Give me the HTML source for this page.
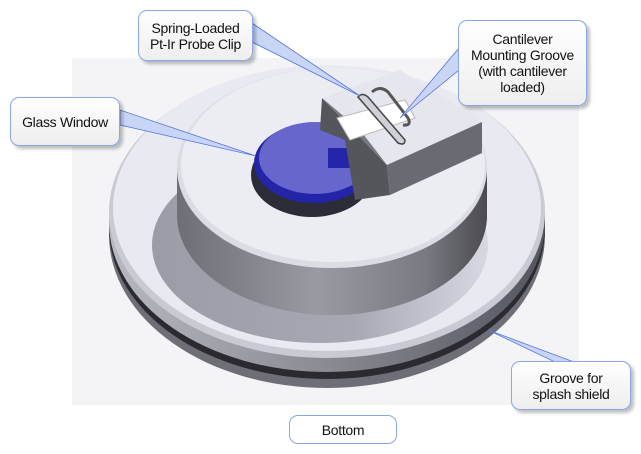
<!DOCTYPE html>
<html><head><meta charset="utf-8"><style>
html,body{margin:0;padding:0;background:#fff;}
body{width:641px;height:454px;overflow:hidden;position:relative;font-family:"Liberation Sans",sans-serif;}
.lb{position:absolute;box-sizing:border-box;border:1.5px solid #8aa6e6;border-radius:9px;background:linear-gradient(#ffffff,#eeeeee);box-shadow:3px 3px 3px rgba(0,0,0,0.25);font-size:14px;line-height:16px;color:#111;text-align:center;display:flex;align-items:center;justify-content:center;letter-spacing:-0.3px;}
</style></head><body>
<svg width="641" height="454" style="position:absolute;left:0;top:0">
<defs>
<linearGradient id="side" x1="0" x2="1"><stop offset="0" stop-color="#b8b8c0"/><stop offset="0.5" stop-color="#8a8a92"/><stop offset="1" stop-color="#555560"/></linearGradient>
<linearGradient id="cyl" x1="0" x2="1"><stop offset="0" stop-color="#6e6e76"/><stop offset="0.45" stop-color="#9a9aa2"/><stop offset="0.8" stop-color="#7a7a82"/><stop offset="1" stop-color="#4a4a50"/></linearGradient>
<linearGradient id="shad" x1="0" x2="1"><stop offset="0" stop-color="#9c9ca6"/><stop offset="0.6" stop-color="#a8a8b2"/><stop offset="1" stop-color="#d8d8e2"/></linearGradient>
</defs>
<rect x="72" y="58" width="507" height="347" fill="#f4f4f6"/>
<polygon points="395,70 415,58 440,60 420,75" fill="#f4f4f6"/>
<ellipse cx="327" cy="235" rx="218" ry="153" fill="#6e6e76"/>
<ellipse cx="327" cy="228" rx="218" ry="151" fill="#2a2a30"/>
<ellipse cx="327" cy="222" rx="218" ry="150" fill="url(#side)"/>
<ellipse cx="327" cy="212" rx="218" ry="146" fill="#cacad4"/>
<ellipse cx="327" cy="208" rx="214" ry="143" fill="#e9e9f1"/>
<ellipse cx="320" cy="245" rx="168" ry="98" fill="url(#shad)"/>
<path d="M177,168 L177,215 A155,100 0 0 0 487,215 L487,168 Z" fill="url(#cyl)"/>
<ellipse cx="332" cy="215" rx="155" ry="100" fill="url(#cyl)"/>
<ellipse cx="332" cy="168" rx="155" ry="100" fill="#dcdce4"/>
<ellipse cx="333" cy="165" rx="152" ry="97" fill="#ececf3"/>
<ellipse cx="312" cy="175" rx="61" ry="42" fill="#2c2c38"/>
<ellipse cx="314" cy="163" rx="60" ry="40" fill="#2424a8"/>
<ellipse cx="315" cy="158" rx="56" ry="36" fill="#6666cc"/>
<rect x="328" y="148" width="30" height="20" fill="#0a0a9a" opacity="0.7"/>
<polygon points="322,98 387,165 390,195 355,200 345,140 320,130" fill="#55555c"/>
<polygon points="322,98 400,70 482,122 387,165" fill="#e6e6ee"/>
<polygon points="387,165 482,122 482,153 390,195" fill="#6a6a72"/>
<polygon points="322,98 387,165 360,130" fill="#777780"/>
<polygon points="337,118 405,100 415,118 350,140" fill="#ffffff" stroke="#bbb"/>
<path d="M358,97 Q362,92 368,97 L405,140 Q405,146 398,143 Z" fill="#d0d0d8" stroke="#444" stroke-width="1.5"/>
<path d="M372,92 Q380,85 388,92 L408,118 Q412,126 403,125" fill="none" stroke="#555" stroke-width="3"/>
<polygon points="252,23 252,42 360,96" fill="#c9d5f5" stroke="#5577dd" stroke-width="0.8"/>
<polygon points="459,48 459,70 400,118" fill="#c9d5f5" stroke="#5577dd" stroke-width="0.8"/>
<polygon points="120,110 120,125 256,156" fill="#c9d5f5" stroke="#5577dd" stroke-width="0.8"/>
<polygon points="488,330 555,362 574,362" fill="#c9d5f5" stroke="#5577dd" stroke-width="0.8"/>
</svg>
<div class="lb" style="left:138px;top:10px;width:115px;height:51px;">Spring-Loaded<br>Pt-Ir Probe Clip</div>
<div class="lb" style="left:458px;top:20px;width:129px;height:86px;">Cantilever<br>Mounting Groove<br>(with cantilever<br>loaded)</div>
<div class="lb" style="left:10px;top:97px;width:110px;height:49px;">Glass Window</div>
<div class="lb" style="left:511px;top:361px;width:120px;height:49px;">Groove for<br>splash shield</div>
<div class="lb" style="left:289px;top:415px;width:108px;height:29px;box-shadow:none;background:#fff;">Bottom</div>
</body></html>
